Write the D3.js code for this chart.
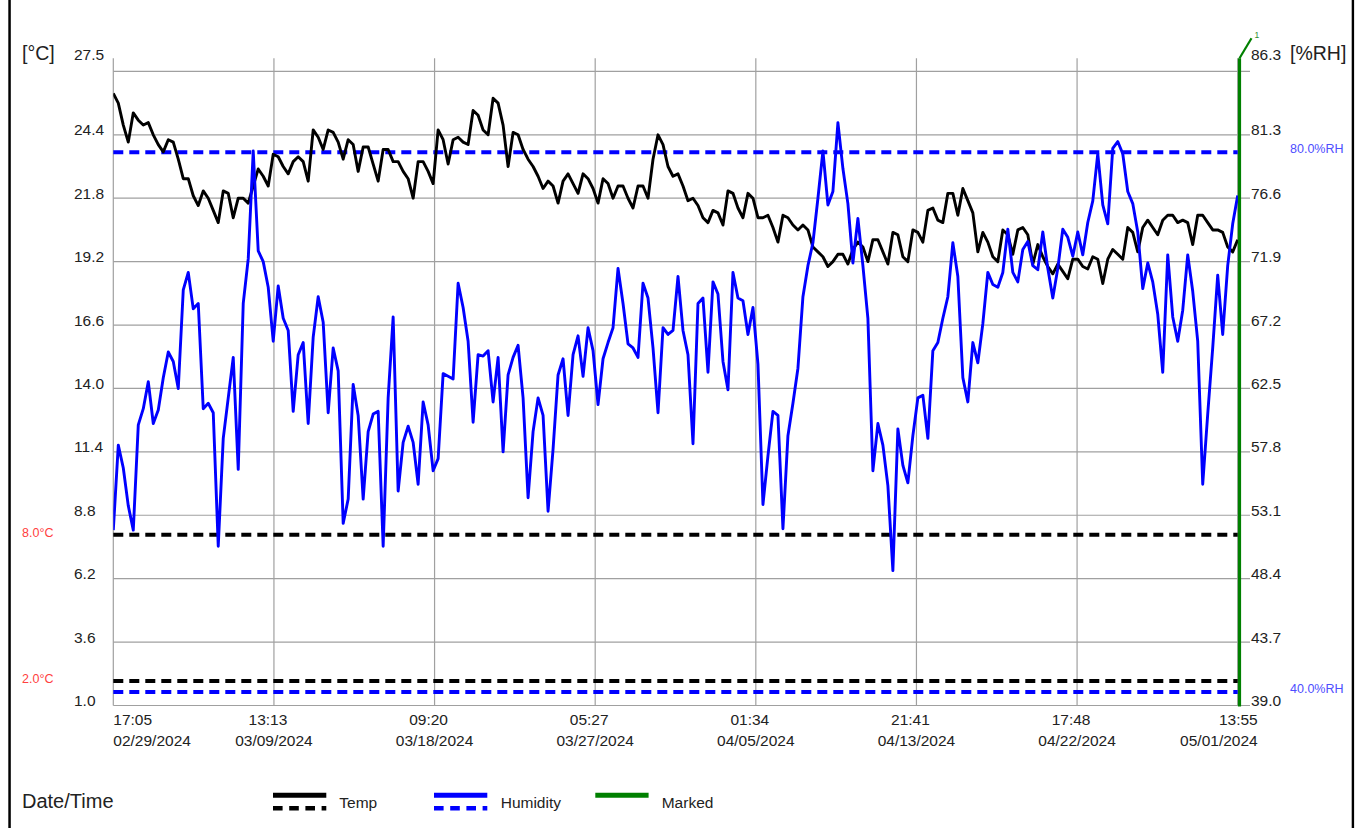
<!DOCTYPE html>
<html>
<head>
<meta charset="utf-8">
<script src="https://cdn.jsdelivr.net/npm/d3@7"></script>
<style>
  html, body { margin: 0; padding: 0; background: #fff; }
  svg { display: block; }
  text { font-family: "Liberation Sans", Arial, Helvetica, sans-serif; }
</style>
</head>
<body>
<svg id="chart" width="1364" height="828"></svg>
<script>
// ---- Logger record: first and last sample, readings at a fixed interval ----
const logStart = "2024-02-29T17:05";
const logEnd = "2024-05-01T13:55";

// Temperature readings (°C)
const tempValues = [
  26.1, 25.7, 24.8, 24.1, 25.3, 25.0, 24.8, 24.9, 24.4, 24.0,
  23.7, 24.2, 24.1, 23.4, 22.6, 22.6, 21.9, 21.5, 22.1, 21.8,
  21.3, 20.8, 22.1, 22.0, 21.0, 21.8, 21.8, 21.6, 22.3, 23.0,
  22.7, 22.3, 23.6, 23.5, 23.1, 22.8, 23.3, 23.5, 23.3, 22.5,
  24.6, 24.3, 23.8, 24.6, 24.5, 24.1, 23.4, 24.2, 24.0, 22.9,
  23.9, 23.9, 23.2, 22.5, 23.8, 23.8, 23.3, 23.3, 22.9, 22.6,
  21.8, 23.3, 23.3, 22.9, 22.4, 24.6, 24.2, 23.2, 24.2, 24.3,
  24.1, 24.0, 25.4, 25.2, 24.6, 24.4, 25.9, 25.7, 24.8, 23.1,
  24.5, 24.4, 23.8, 23.4, 23.1, 22.7, 22.2, 22.5, 22.3, 21.6,
  22.5, 22.8, 22.4, 22.0, 22.8, 22.6, 22.2, 21.6, 22.6, 22.4,
  21.8, 22.3, 22.3, 21.8, 21.4, 22.3, 22.3, 21.8, 23.4, 24.4,
  24.0, 23.1, 22.7, 22.8, 22.3, 21.7, 21.8, 21.5, 21.0, 20.8,
  21.3, 21.2, 20.7, 22.1, 22.0, 21.4, 21.0, 22.0, 21.8, 21.0,
  21.0, 21.1, 20.6, 20.0, 21.1, 21.0, 20.7, 20.5, 20.7, 20.5,
  19.8, 19.6, 19.4, 19.0, 19.2, 19.5, 19.5, 19.1, 19.7, 20.0,
  19.8, 19.2, 20.1, 20.1, 19.6, 19.1, 20.4, 20.3, 19.4, 19.2,
  20.5, 20.4, 20.0, 21.3, 21.4, 20.9, 20.8, 22.0, 22.0, 21.1,
  22.2, 21.7, 21.2, 19.6, 20.4, 20.0, 19.4, 19.2, 20.5, 20.3,
  19.5, 20.5, 20.6, 20.3, 19.1, 19.9, 19.4, 19.0, 18.7, 19.1,
  18.8, 18.5, 19.3, 19.3, 19.0, 18.9, 19.4, 19.3, 18.3, 19.3,
  19.7, 19.5, 19.3, 20.6, 20.4, 19.6, 20.6, 20.9, 20.6, 20.3,
  20.9, 21.1, 21.1, 20.8, 20.9, 20.8, 19.9, 21.1, 21.1, 20.8,
  20.5, 20.5, 20.4, 19.8, 19.6, 20.1
];

// Relative humidity readings (%RH)
const humidityValues = [
  52.0, 58.3, 56.6, 53.8, 52.0, 59.8, 61.0, 63.0, 59.9, 60.9,
  63.3, 65.2, 64.5, 62.5, 69.8, 71.1, 68.4, 68.8, 61.0, 61.4,
  60.7, 50.8, 58.8, 61.8, 64.8, 56.5, 68.8, 72.1, 80.1, 72.7,
  71.9, 70.0, 66.0, 70.1, 67.7, 66.8, 60.8, 65.0, 65.9, 59.9,
  66.3, 69.3, 67.4, 60.7, 65.5, 63.8, 52.5, 54.3, 62.8, 60.5,
  54.3, 59.3, 60.6, 60.8, 50.8, 61.8, 67.8, 54.9, 58.5, 59.7,
  58.5, 55.4, 61.5, 59.8, 56.4, 57.3, 63.6, 63.4, 63.2, 70.3,
  68.5, 66.0, 60.0, 65.0, 64.9, 65.3, 61.5, 64.8, 57.8, 63.5,
  64.8, 65.7, 61.8, 54.4, 59.3, 61.8, 60.5, 53.4, 58.0, 63.5,
  64.7, 60.5, 65.0, 66.4, 63.4, 67.0, 65.3, 61.3, 64.7, 65.9,
  67.0, 71.4, 68.8, 65.8, 65.5, 64.8, 70.3, 69.2, 65.5, 60.7,
  67.0, 66.5, 66.8, 70.8, 66.8, 65.0, 58.4, 68.8, 69.2, 63.7,
  70.4, 69.5, 64.5, 62.4, 71.1, 69.2, 69.0, 66.5, 68.5, 64.3,
  53.9, 57.5, 60.8, 60.5, 52.1, 59.0, 61.4, 64.0, 69.3, 71.6,
  73.3, 76.6, 80.1, 76.1, 77.1, 82.2, 78.8, 76.2, 71.8, 75.1,
  71.6, 67.7, 56.4, 59.9, 58.3, 55.3, 49.0, 59.5, 56.8, 55.5,
  59.0, 61.8, 62.0, 58.8, 65.3, 65.9, 67.7, 69.3, 73.3, 70.8,
  63.3, 61.5, 65.9, 64.4, 67.3, 71.1, 70.2, 70.0, 71.1, 74.3,
  71.1, 70.4, 72.8, 73.4, 71.6, 71.3, 74.1, 71.4, 69.2, 71.4,
  74.3, 73.7, 72.3, 74.1, 72.4, 74.8, 76.4, 79.9, 76.1, 74.7,
  80.3, 80.8, 79.9, 77.1, 76.2, 74.1, 69.9, 71.8, 70.4, 68.0,
  63.7, 72.4, 67.8, 66.0, 68.3, 72.4, 69.7, 66.0, 55.4, 60.6,
  65.5, 70.9, 66.5, 71.6, 74.7, 76.8
];

// Time axis ticks
const timeTicks = [
  "2024-02-29T17:05", "2024-03-09T13:13", "2024-03-18T09:20", "2024-03-27T05:27",
  "2024-04-05T01:34", "2024-04-13T21:41", "2024-04-22T17:48", "2024-05-01T13:55"
];
const timeTickClock = ["17:05", "13:13", "09:20", "05:27", "01:34", "21:41", "17:48", "13:55"];
const timeTickDate = ["02/29/2024", "03/09/2024", "03/18/2024", "03/27/2024",
                      "04/05/2024", "04/13/2024", "04/22/2024", "05/01/2024"];

// Value axis ticks
const tempTicks = [1.0, 3.6, 6.2, 8.8, 11.4, 14.0, 16.6, 19.2, 21.8, 24.4];
const tempGridTop = 27.0;
const tempAxisMax = 27.5;
const humidityTicks = [39.0, 43.7, 48.4, 53.1, 57.8, 62.5, 67.2, 71.9, 76.6, 81.3];
const humidityGridTop = 86.0;
const humidityAxisMax = 86.3;

// Alarm limits
const tempLimits = [8.0, 2.0];
const humidityLimits = [80.0, 40.0];

// Legend entries
const legendItems = [
  { name: "Temp", color: "#000000", dashed: true },
  { name: "Humidity", color: "#0000ff", dashed: true },
  { name: "Marked", color: "#008000", dashed: false }
];

// ---- Drawing ----
const svg = d3.select("#chart");
const FONT = 15.5;
const parseT = d3.timeParse("%Y-%m-%dT%H:%M");
const t0 = parseT(logStart), t1 = parseT(logEnd);

const x = d3.scaleTime().domain([t0, t1]).range([113.3, 1237.7]);
const yT = d3.scaleLinear().domain([tempTicks[0], tempGridTop]).range([705.5, 71.4]);
const yH = d3.scaleLinear().domain([humidityTicks[0], humidityGridTop]).range([705.5, 71.4]);
const plotTop = yT(tempAxisMax);
const plotBottom = yT(tempTicks[0]);
const [xL, xR] = x.range();

const stepMs = (t1 - t0) / (tempValues.length - 1);
const timeAt = i => new Date(t0.getTime() + i * stepMs);

// outer frame bars
svg.append("rect").attr("x", 8.3).attr("y", 0).attr("width", 2.5).attr("height", 828).attr("fill", "#000");
svg.append("rect").attr("x", 1351.7).attr("y", 0).attr("width", 2.4).attr("height", 828).attr("fill", "#000");

// horizontal grid
const gridVals = tempTicks.concat([tempGridTop]);
svg.append("g").selectAll("line").data(gridVals).join("line")
  .attr("x1", xL).attr("x2", 1250)
  .attr("y1", d => yT(d)).attr("y2", d => yT(d))
  .attr("stroke", "#a0a0a0").attr("stroke-width", 1.2);

// vertical grid
svg.append("g").selectAll("line").data(timeTicks).join("line")
  .attr("x1", d => x(parseT(d))).attr("x2", d => x(parseT(d)))
  .attr("y1", plotTop - 1).attr("y2", plotBottom)
  .attr("stroke", "#a0a0a0").attr("stroke-width", 1.2);

// left axis labels
const leftLab = svg.append("g").attr("font-size", FONT).attr("fill", "#222");
leftLab.selectAll("text").data(tempTicks).join("text")
  .attr("x", 74).attr("y", d => yT(d) - 5 + 0.36 * FONT)
  .text(d => d.toFixed(1));
leftLab.append("text").attr("x", 74).attr("y", plotTop - 5 + 0.36 * FONT).text(tempAxisMax.toFixed(1));

// right axis labels
const rightLab = svg.append("g").attr("font-size", FONT).attr("fill", "#222");
rightLab.selectAll("text").data(humidityTicks).join("text")
  .attr("x", 1251).attr("y", d => yH(d) - 5 + 0.36 * FONT)
  .text(d => d.toFixed(1));
rightLab.append("text").attr("x", 1251).attr("y", plotTop - 5 + 0.36 * FONT).text(humidityAxisMax.toFixed(1));

// unit labels
svg.append("text").attr("x", 22).attr("y", 60).attr("font-size", 19.5).attr("fill", "#222").text("[°C]");
svg.append("text").attr("x", 1290).attr("y", 59.5).attr("font-size", 19.5).attr("fill", "#222").text("[%RH]");

// time axis labels
const xLab = svg.append("g").attr("font-size", FONT).attr("fill", "#222");
timeTicks.forEach((d, i) => {
  const px = x(parseT(d));
  const last = i === timeTicks.length - 1;
  let anchor = "middle", tx = px - 6, dx = px;
  if (i === 0) { anchor = "start"; tx = px; dx = px; }
  if (last) { anchor = "end"; tx = px + 20; dx = px + 20; }
  xLab.append("text").attr("x", tx).attr("y", 725).attr("text-anchor", anchor).text(timeTickClock[i]);
  xLab.append("text").attr("x", dx).attr("y", 745.6).attr("text-anchor", anchor).text(timeTickDate[i]);
});

// alarm limit lines
const dash = "10,6";
svg.append("g").selectAll("line").data(tempLimits).join("line")
  .attr("x1", xL).attr("x2", xR)
  .attr("y1", d => yT(d)).attr("y2", d => yT(d))
  .attr("stroke", "#000").attr("stroke-width", 4).attr("stroke-dasharray", dash);
svg.append("g").selectAll("line").data(humidityLimits).join("line")
  .attr("x1", xL).attr("x2", xR)
  .attr("y1", d => yH(d)).attr("y2", d => yH(d))
  .attr("stroke", "#0000ff").attr("stroke-width", 4).attr("stroke-dasharray", dash);

// limit labels
svg.append("g").attr("font-size", 12.5).attr("fill", "#ff4040")
  .selectAll("text").data(tempLimits).join("text")
  .attr("x", 22).attr("y", d => yT(d) - 2.5 + 4.5)
  .text(d => d.toFixed(1) + "°C");
svg.append("g").attr("font-size", 12.5).attr("fill", "#4d4dff")
  .selectAll("text").data(humidityLimits).join("text")
  .attr("x", 1290).attr("y", d => yH(d) - 3.7 + 4.5)
  .text(d => d.toFixed(1) + "%RH");

// data series
svg.append("clipPath").attr("id", "plotClip").append("rect")
  .attr("x", xL).attr("y", plotTop).attr("width", xR - xL + 2).attr("height", plotBottom - plotTop);

const tempLine = d3.line().x((d, i) => x(timeAt(i))).y(d => yT(d));
const humLine = d3.line().x((d, i) => x(timeAt(i))).y(d => yH(d));

svg.append("path").datum(tempValues).attr("clip-path", "url(#plotClip)")
  .attr("d", tempLine).attr("fill", "none").attr("stroke", "#000")
  .attr("stroke-width", 2.9).attr("stroke-linejoin", "round");
svg.append("path").datum(humidityValues).attr("clip-path", "url(#plotClip)")
  .attr("d", humLine).attr("fill", "none").attr("stroke", "#0000ff")
  .attr("stroke-width", 2.9).attr("stroke-linejoin", "round");

// marker at last reading
const mx = x(t1) + 1.8;
svg.append("line").attr("x1", mx).attr("x2", mx).attr("y1", plotTop - 1).attr("y2", plotBottom + 1)
  .attr("stroke", "#008000").attr("stroke-width", 3.2);
svg.append("line").attr("x1", mx).attr("x2", mx + 12).attr("y1", plotTop - 1).attr("y2", 38.3)
  .attr("stroke", "#008000").attr("stroke-width", 2.2);
svg.append("text").attr("x", 1254.5).attr("y", 37.5).attr("font-size", 8.5).attr("fill", "#2e8b2e").text("1");

// legend
svg.append("text").attr("x", 22).attr("y", 807.9).attr("font-size", 20).attr("fill", "#222").text("Date/Time");
const legX = [273, 434, 595.3];
const legTextX = [339.3, 500.7, 661.7];
legendItems.forEach((it, i) => {
  const g = svg.append("g");
  g.append("line").attr("x1", legX[i]).attr("x2", legX[i] + 53.3)
    .attr("y1", 795.2).attr("y2", 795.2).attr("stroke", it.color).attr("stroke-width", 5);
  if (it.dashed) {
    g.append("line").attr("x1", legX[i]).attr("x2", legX[i] + 53.3)
      .attr("y1", 808.3).attr("y2", 808.3).attr("stroke", it.color).attr("stroke-width", 4.6)
      .attr("stroke-dasharray", "9.6,6.6");
  }
  g.append("text").attr("x", legTextX[i]).attr("y", 807.6).attr("font-size", FONT).attr("fill", "#222").text(it.name);
});
</script>
</body>
</html>
